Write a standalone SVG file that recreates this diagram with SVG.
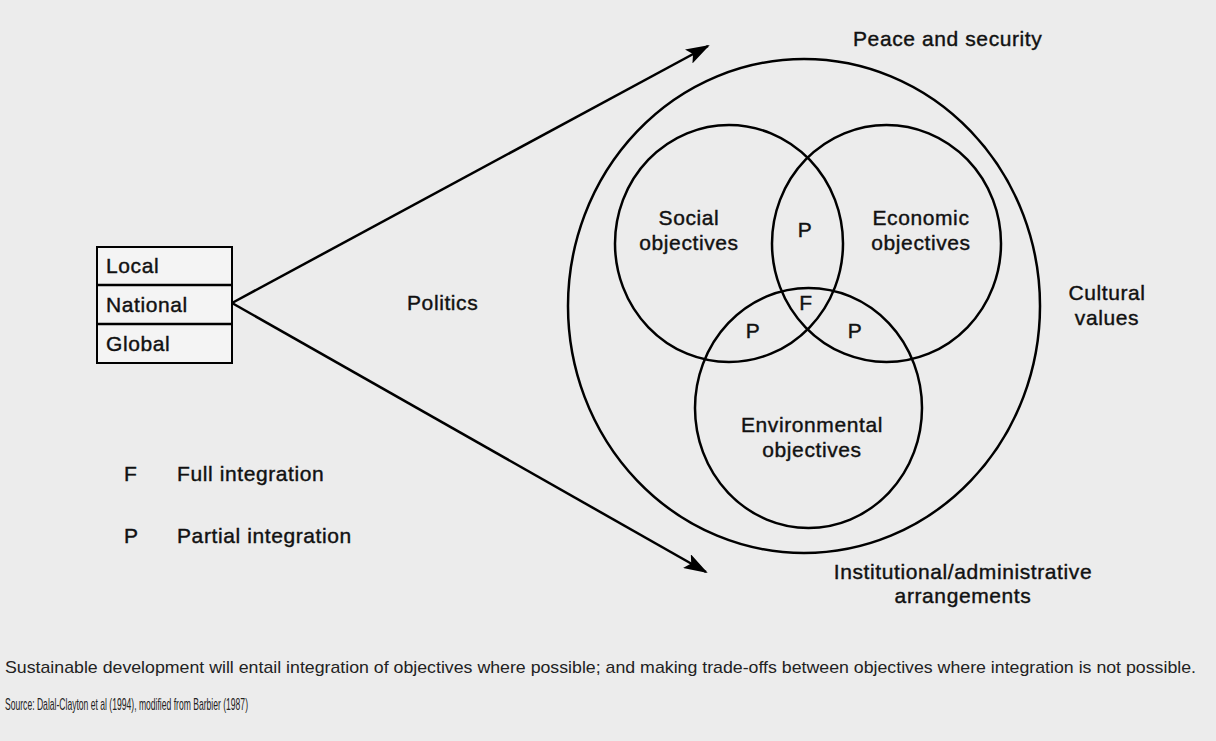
<svg xmlns="http://www.w3.org/2000/svg" width="1216" height="741" viewBox="0 0 1216 741">
  <defs>
    <marker id="arrow" viewBox="0 0 24 16" refX="22" refY="8" markerWidth="24" markerHeight="16" markerUnits="userSpaceOnUse" orient="auto">
      <path d="M0,0 L24,8 L0,16 L5,8 Z" fill="#000"/>
    </marker>
    <style>
      .bg { fill: #ececec; }
      .ln { fill: none; stroke: #000; stroke-width: 2.5; }
      .box { fill: #f4f4f4; stroke: #000; stroke-width: 2; }
      .t { font-family: "Liberation Sans", Arial, sans-serif; font-size: 21px; fill: #111; stroke: #111; stroke-width: 0.4; letter-spacing: 0.6px; }
      .c { text-anchor: middle; }
      .cap { font-family: "Liberation Sans", Arial, sans-serif; font-size: 17px; fill: #222; }
    </style>
  </defs>
  <rect class="bg" x="0" y="0" width="1216" height="741"/>

  <g id="connectors">
    <line class="ln" x1="232" y1="303" x2="708" y2="46" marker-end="url(#arrow)"/>
    <line class="ln" x1="232" y1="303" x2="706" y2="572" marker-end="url(#arrow)"/>
  </g>

  <g id="levels">
    <rect class="box" x="97" y="247" width="135" height="116"/>
    <line class="ln" x1="97" y1="285" x2="232" y2="285" stroke-width="2"/>
    <line class="ln" x1="97" y1="324" x2="232" y2="324" stroke-width="2"/>
    <text class="t" x="106" y="273">Local</text>
    <text class="t" x="106" y="312">National</text>
    <text class="t" x="106" y="351">Global</text>
  </g>

  <g id="politics">
    <text class="t" x="407" y="310">Politics</text>
  </g>

  <g id="context">
    <ellipse class="ln" cx="804" cy="306" rx="236" ry="247"/>
    <text class="t" x="853" y="46">Peace and security</text>
    <text class="t c" x="1107" y="300">Cultural</text>
    <text class="t c" x="1107" y="325">values</text>
    <text class="t c" x="963" y="579">Institutional/administrative</text>
    <text class="t c" x="963" y="603">arrangements</text>
  </g>

  <g id="social">
    <ellipse class="ln" cx="729" cy="243.5" rx="114" ry="118.5"/>
    <text class="t c" x="689" y="225">Social</text>
    <text class="t c" x="689" y="250">objectives</text>
  </g>

  <g id="economic">
    <ellipse class="ln" cx="886.5" cy="243.5" rx="114.5" ry="118.5"/>
    <text class="t c" x="921" y="225">Economic</text>
    <text class="t c" x="921" y="250">objectives</text>
  </g>

  <g id="environmental">
    <ellipse class="ln" cx="808.5" cy="408" rx="113.5" ry="120"/>
    <text class="t c" x="812" y="432">Environmental</text>
    <text class="t c" x="812" y="457">objectives</text>
  </g>

  <g id="overlaps">
    <text class="t c" x="805" y="237">P</text>
    <text class="t c" x="806" y="310">F</text>
    <text class="t c" x="753" y="338">P</text>
    <text class="t c" x="855" y="338">P</text>
  </g>

  <g id="legend">
    <text class="t" x="124" y="481">F</text>
    <text class="t" x="177" y="481">Full integration</text>
    <text class="t" x="124" y="543">P</text>
    <text class="t" x="177" y="543">Partial integration</text>
  </g>

  <g id="caption">
    <text class="cap" x="5" y="673" textLength="1191" lengthAdjust="spacingAndGlyphs">Sustainable development will entail integration of objectives where possible; and making trade-offs between objectives where integration is not possible.</text>
    <text class="cap" x="5" y="710" textLength="243" lengthAdjust="spacingAndGlyphs">Source: Dalal-Clayton et al (1994), modified from Barbier (1987)</text>
  </g>
</svg>
